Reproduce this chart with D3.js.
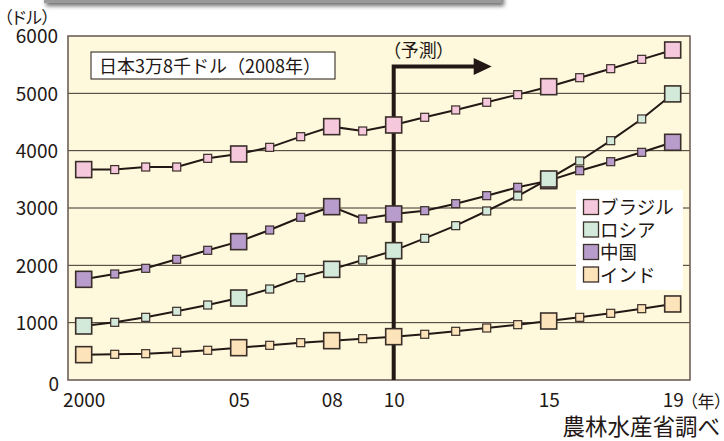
<!DOCTYPE html>
<html>
<head>
<meta charset="utf-8">
<script src="https://cdn.jsdelivr.net/npm/d3@7"></script>
<style>
  html, body { margin: 0; padding: 0; background: #fff; }
  svg { display: block; }
  text { font-family: "Noto Sans CJK JP", "Noto Sans", sans-serif; fill: #231815; }
  .tight { font-feature-settings: "palt"; }
</style>
</head>
<body>
<svg id="chart" width="724" height="441"></svg>
<script>
// 一人当たり肉類消費支出の推移（ドル）
const years = d3.range(2000, 2020);
const brazil = [3670, 3670, 3715, 3715, 3866, 3942, 4058, 4244, 4419, 4343, 4448, 4582, 4710, 4844, 4977, 5116, 5273, 5430, 5593, 5756];
const russia = [942, 1006, 1093, 1198, 1308, 1430, 1587, 1785, 1930, 2093, 2256, 2471, 2692, 2948, 3209, 3506, 3820, 4174, 4553, 4990];
const china  = [1756, 1849, 1948, 2105, 2262, 2413, 2616, 2838, 3023, 2808, 2896, 2953, 3075, 3215, 3361, 3477, 3651, 3808, 3971, 4146];
const india  = [442, 448, 459, 483, 518, 564, 605, 651, 686, 721, 756, 797, 849, 907, 965, 1029, 1093, 1163, 1244, 1326];
const seriesNames = ["ブラジル", "ロシア", "中国", "インド"];
const seriesColors = ["#f5c8dc", "#d3eadb", "#b89ccb", "#fde3b9"];
const keyYears = [2000, 2005, 2008, 2010, 2015, 2019];
const xTickLabels = ["2000", "05", "08", "10", "15", "19"];
const yTicks = [0, 1000, 2000, 3000, 4000, 5000, 6000];
const forecastYear = 2010;

const svg = d3.select("#chart");
const ink = "#231815";
const labelInk = "#3a302b";

// 上部の帯（影付き）
const defs = svg.append("defs");
const blur = defs.append("filter").attr("id", "shadow").attr("x", "-10%").attr("y", "-200%").attr("width", "120%").attr("height", "500%");
blur.append("feGaussianBlur").attr("stdDeviation", 2.2);
svg.append("rect").attr("x", 46).attr("y", -6).attr("width", 458).attr("height", 12)
  .attr("fill", "#6e6e6e").attr("filter", "url(#shadow)");
svg.append("rect").attr("x", 44).attr("y", -6).attr("width", 458).attr("height", 9)
  .attr("fill", "#9a9a9a");

const plot = { left: 68, right: 690, top: 36, bottom: 380 };
const x = d3.scaleLinear().domain([2000, 2019]).range([83.7, 672.7]);
const y = d3.scaleLinear().domain([0, 6000]).range([plot.bottom, plot.top]);

// 背景
svg.append("rect").attr("x", plot.left).attr("y", plot.top)
  .attr("width", plot.right - plot.left).attr("height", plot.bottom - plot.top)
  .attr("fill", "#fef9dc");

// 目盛線
svg.append("g").selectAll("line").data(yTicks.filter(t => t > 0 && t < 6000)).join("line")
  .attr("x1", plot.left).attr("x2", plot.right)
  .attr("y1", d => y(d)).attr("y2", d => y(d))
  .attr("stroke", "#3b302a").attr("stroke-width", 1);

// 枠
svg.append("rect").attr("x", plot.left).attr("y", plot.top)
  .attr("width", plot.right - plot.left).attr("height", plot.bottom - plot.top)
  .attr("fill", "none").attr("stroke", "#6d6058").attr("stroke-width", 1.6);

// 縦軸
const yAxis = svg.append("g").attr("transform", `translate(${plot.left - 10},0)`)
  .call(d3.axisLeft(y).tickValues(yTicks).tickSize(0).tickPadding(0).tickFormat(d3.format("d")));
yAxis.select(".domain").remove();
yAxis.selectAll("text").attr("font-size", 19).attr("fill", labelInk)
  .style("font-family", '"Noto Sans CJK JP", sans-serif').attr("dy", "0.36em");
yAxis.selectAll(".tick").filter(d => d === 0).select("text").attr("dx", 1).attr("dy", "0.55em");

// 横軸
const xAxis = svg.append("g").attr("transform", `translate(0,${plot.bottom})`)
  .call(d3.axisBottom(x).tickValues(keyYears).tickSize(0).tickPadding(14)
    .tickFormat((d, i) => xTickLabels[i]));
xAxis.select(".domain").remove();
xAxis.selectAll("text").attr("font-size", 19).attr("fill", labelInk)
  .style("font-family", '"Noto Sans CJK JP", sans-serif');

svg.append("text").attr("class", "tight").attr("x", 689).attr("y", 408).attr("font-size", 17)
  .attr("fill", labelInk).text("（年）");
svg.append("text").attr("class", "tight").attr("x", 4).attr("y", 24).attr("font-size", 17)
  .attr("fill", labelInk).text("（ドル）");
svg.append("text").attr("x", 720).attr("y", 435).attr("font-size", 22.5).attr("text-anchor", "end")
  .attr("fill", labelInk).text("農林水産省調べ");

// 予測の境界線と矢印
const fx = x(forecastYear);
const arrowY = 66.5;
svg.append("path")
  .attr("d", `M${fx},${plot.bottom} L${fx},${arrowY} L${fx + 82},${arrowY}`)
  .attr("fill", "none").attr("stroke", ink).attr("stroke-width", 4).attr("stroke-linejoin", "miter");
svg.append("path")
  .attr("d", `M${fx + 80},${arrowY - 8.5} L${fx + 98},${arrowY} L${fx + 80},${arrowY + 8.5} Z`)
  .attr("fill", ink);
svg.append("text").attr("class", "tight").attr("x", fx - 2).attr("y", 57).attr("font-size", 18).text("（予測）");

// 日本の注記
svg.append("rect").attr("x", 91).attr("y", 52).attr("width", 244).attr("height", 27)
  .attr("fill", "#fff").attr("stroke", ink).attr("stroke-width", 1);
svg.append("text").attr("x", 99).attr("y", 72.5).attr("font-size", 18).text("日本3万8千ドル（2008年）");

// 系列
const series = [
  { name: seriesNames[3], color: seriesColors[3], values: india },
  { name: seriesNames[2], color: seriesColors[2], values: china },
  { name: seriesNames[1], color: seriesColors[1], values: russia },
  { name: seriesNames[0], color: seriesColors[0], values: brazil }
];
const line = d3.line().x(d => x(d.year)).y(d => y(d.value));

series.forEach(s => {
  const pts = years.map((yr, i) => ({ year: yr, value: s.values[i] }));
  const g = svg.append("g");
  g.append("path").datum(pts).attr("d", line)
    .attr("fill", "none").attr("stroke", ink).attr("stroke-width", 2);
  g.selectAll("rect").data(pts).join("rect")
    .each(function (d) {
      const size = keyYears.includes(d.year) ? 16 : 8;
      d3.select(this)
        .attr("x", x(d.year) - size / 2).attr("y", y(d.value) - size / 2)
        .attr("width", size).attr("height", size);
    })
    .attr("fill", s.color).attr("stroke", "#3b2f2a")
    .attr("stroke-width", d => keyYears.includes(d.year) ? 1.6 : 1.2);
});

// 凡例
const legend = svg.append("g");
legend.append("rect").attr("x", 576).attr("y", 190).attr("width", 107).attr("height", 100).attr("fill", "#fff");
seriesNames.forEach((name, i) => {
  const cy = 207 + i * 22.5;
  legend.append("rect").attr("x", 583.5).attr("y", cy - 7.5).attr("width", 15).attr("height", 15)
    .attr("fill", seriesColors[i]).attr("stroke", "#3b2f2a").attr("stroke-width", 1.3);
  legend.append("text").attr("x", 600).attr("y", cy + 7).attr("font-size", 18.5).text(name);
});
</script>
</body>
</html>
